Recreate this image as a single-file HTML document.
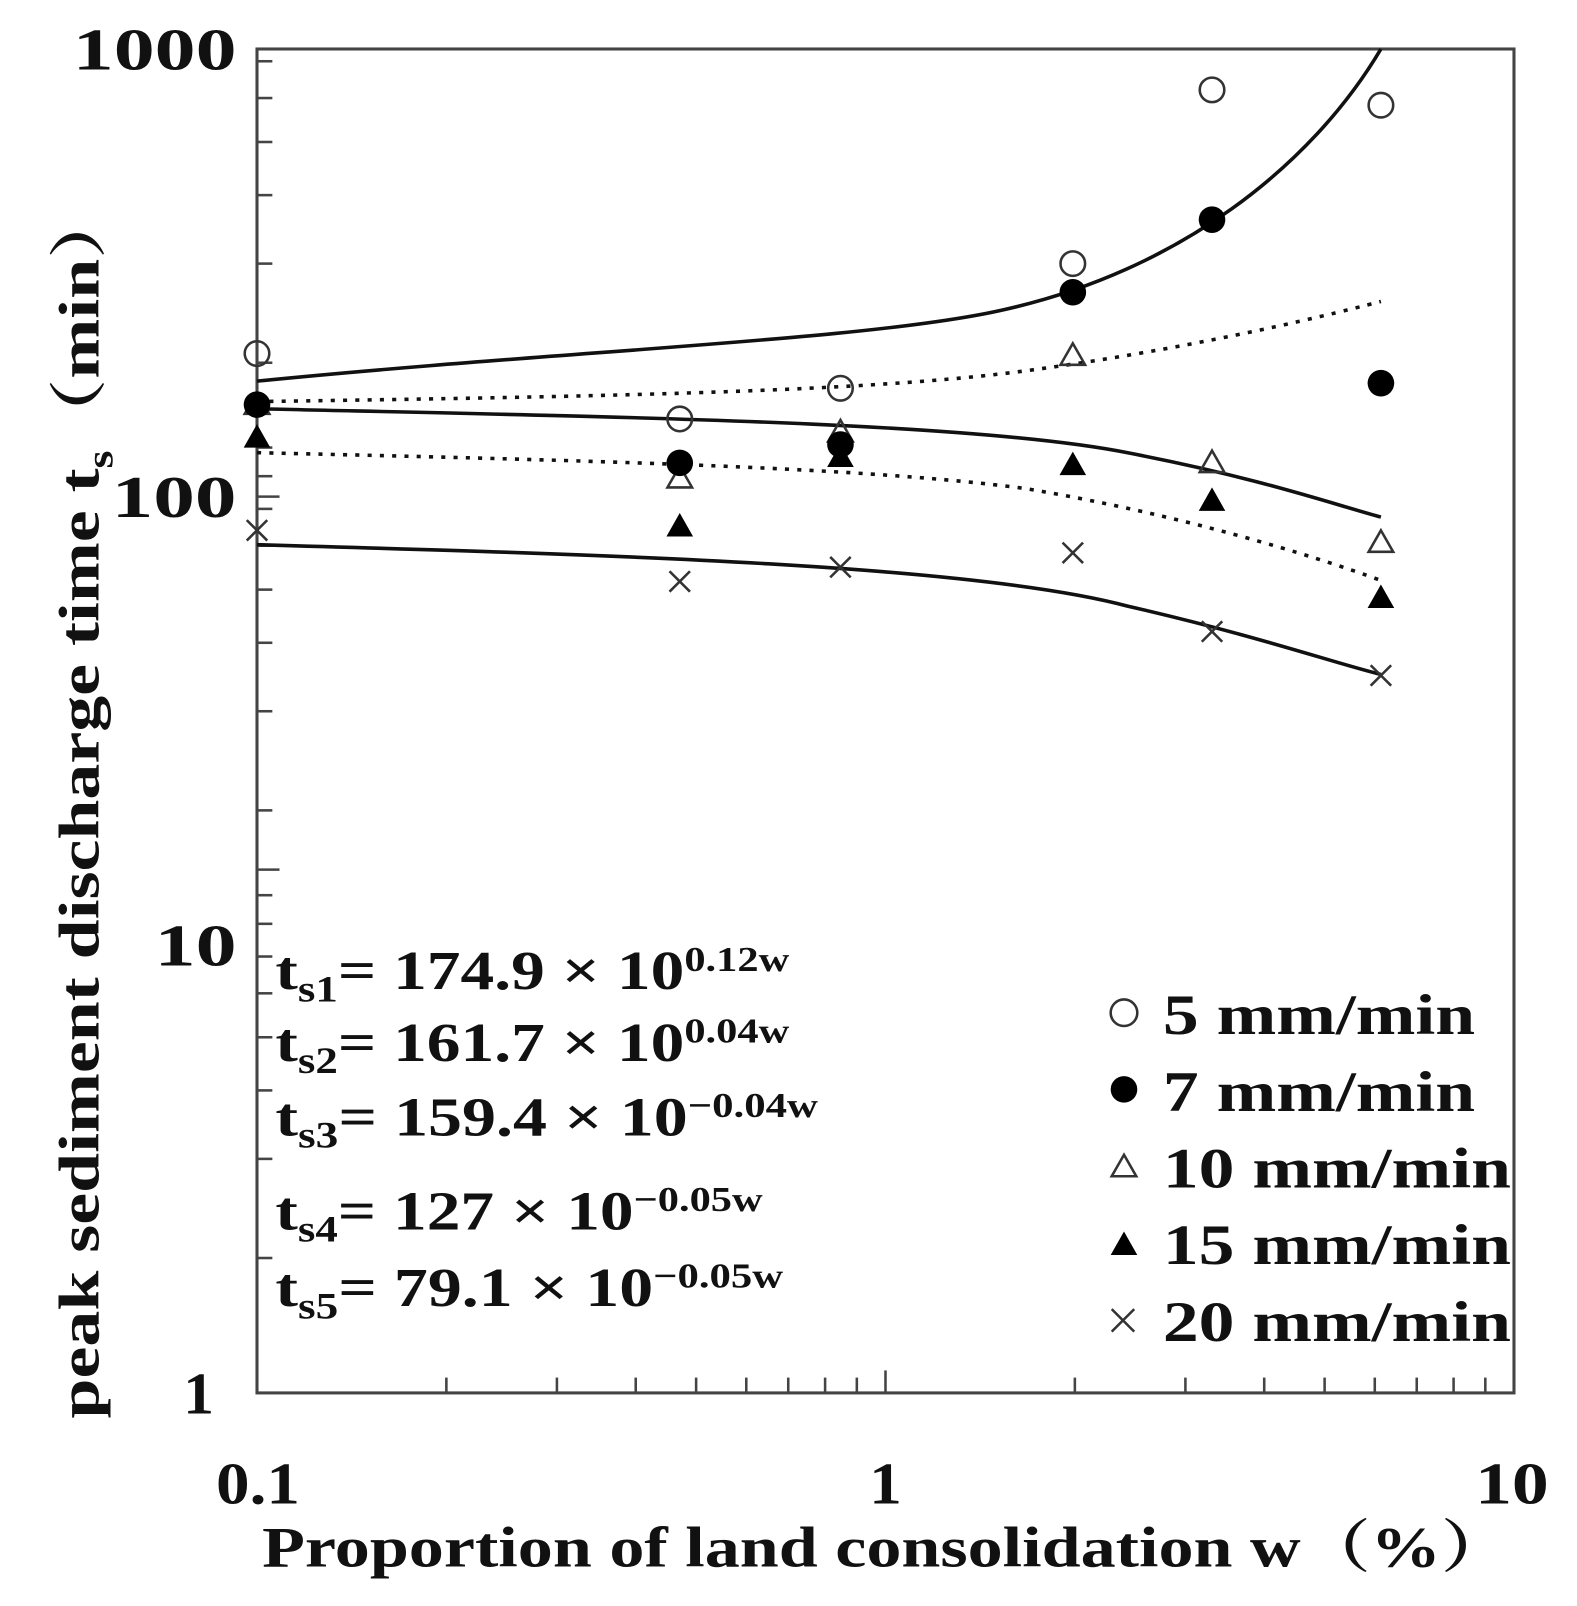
<!DOCTYPE html>
<html><head><meta charset="utf-8"><style>
html,body{margin:0;padding:0;background:#fff;}
svg{display:block}
text{font-family:"Liberation Serif","Noto Serif CJK SC",serif;font-weight:bold;fill:#111}
</style></head><body>
<svg width="1577" height="1606" viewBox="0 0 1577 1606" xmlns="http://www.w3.org/2000/svg">
<g transform="translate(1.1,3) scale(1.0236,1.022)">
<rect x="250" y="45" width="1228" height="1315" fill="none" stroke="#444" stroke-width="3"/>
<g stroke="#444" stroke-width="2.5">
<line x1="435" y1="1360" x2="435" y2="1345"/><line x1="543" y1="1360" x2="543" y2="1345"/><line x1="620" y1="1360" x2="620" y2="1345"/><line x1="679" y1="1360" x2="679" y2="1345"/><line x1="728" y1="1360" x2="728" y2="1345"/><line x1="769" y1="1360" x2="769" y2="1345"/><line x1="805" y1="1360" x2="805" y2="1345"/><line x1="836" y1="1360" x2="836" y2="1345"/><line x1="864" y1="1360" x2="864" y2="1338"/>
<line x1="1049" y1="1360" x2="1049" y2="1345"/><line x1="1157" y1="1360" x2="1157" y2="1345"/><line x1="1234" y1="1360" x2="1234" y2="1345"/><line x1="1293" y1="1360" x2="1293" y2="1345"/><line x1="1342" y1="1360" x2="1342" y2="1345"/><line x1="1383" y1="1360" x2="1383" y2="1345"/><line x1="1419" y1="1360" x2="1419" y2="1345"/><line x1="1450" y1="1360" x2="1450" y2="1345"/>
<line x1="250" y1="1228" x2="265" y2="1228"/><line x1="250" y1="1131" x2="265" y2="1131"/><line x1="250" y1="1064" x2="265" y2="1064"/><line x1="250" y1="1012" x2="265" y2="1012"/><line x1="250" y1="969" x2="265" y2="969"/><line x1="250" y1="933" x2="265" y2="933"/><line x1="250" y1="901" x2="265" y2="901"/><line x1="250" y1="873" x2="265" y2="873"/><line x1="250" y1="848" x2="272" y2="848"/>
<line x1="250" y1="790" x2="265" y2="790"/><line x1="250" y1="693" x2="265" y2="693"/><line x1="250" y1="626" x2="265" y2="626"/><line x1="250" y1="574" x2="265" y2="574"/><line x1="250" y1="531" x2="265" y2="531"/><line x1="250" y1="495" x2="265" y2="495"/><line x1="250" y1="463" x2="265" y2="463"/><line x1="250" y1="435" x2="265" y2="435"/><line x1="250" y1="483" x2="272" y2="483"/>
<line x1="250" y1="352" x2="265" y2="352"/><line x1="250" y1="255" x2="265" y2="255"/><line x1="250" y1="188" x2="265" y2="188"/><line x1="250" y1="136" x2="265" y2="136"/><line x1="250" y1="93" x2="265" y2="93"/><line x1="250" y1="57" x2="265" y2="57"/>
</g>
<g font-size="58">
<text x="70" y="65" textLength="160" lengthAdjust="spacingAndGlyphs">1000</text>
<text x="108" y="503" textLength="122" lengthAdjust="spacingAndGlyphs">100</text>
<text x="150" y="942" textLength="80" lengthAdjust="spacingAndGlyphs">10</text>
<text x="178" y="1380" textLength="30" lengthAdjust="spacingAndGlyphs">1</text>
<text x="210" y="1468" textLength="82" lengthAdjust="spacingAndGlyphs">0.1</text>
<text x="848" y="1468" textLength="32" lengthAdjust="spacingAndGlyphs">1</text>
<text x="1440" y="1468" textLength="72" lengthAdjust="spacingAndGlyphs">10</text>
</g>
<text x="255" y="1530" font-size="56" textLength="1220" lengthAdjust="spacingAndGlyphs">Proportion of land consolidation  w（%）</text>
<text transform="translate(95,1385) rotate(-90)" font-size="56" textLength="1205" lengthAdjust="spacingAndGlyphs">peak sediment discharge time  t<tspan font-size="36" dy="14">s</tspan><tspan dy="-14">（min）</tspan></text>
<g fill="none" stroke="#111" stroke-width="3.5">
<path d="M250,370 C550,340 850,330 980,300 C1150,262 1280,160 1348,45"/>
<path d="M250,397 C600,405 950,410 1100,440 C1230,465 1300,490 1348,503"/>
<path d="M250,530 C600,540 950,550 1100,590 C1230,620 1300,645 1348,657"/>
</g>
<g fill="none" stroke="#111" stroke-width="3.5" stroke-dasharray="4,8">
<path d="M250,390 C600,385 850,380 1000,360 C1150,340 1280,310 1348,292"/>
<path d="M250,440 C600,448 850,455 1000,475 C1150,500 1280,540 1348,565"/>
</g>
<g fill="none" stroke="#333" stroke-width="2.5">
<circle cx="250" cy="343" r="12"/><circle cx="663" cy="407" r="12"/><circle cx="820" cy="377" r="12"/><circle cx="1047" cy="255" r="12"/><circle cx="1183" cy="85" r="12"/><circle cx="1348" cy="100" r="12"/>
<path d="M663,453 l12,21 h-24z M820,408 l12,21 h-24z M1047,333 l12,21 h-24z M1183,438 l12,21 h-24z M1348,516 l12,21 h-24z M250,381 l12,21 h-24z"/>
<path d="M240,506 l20,20 M260,506 l-20,20 M653,556 l20,20 M673,556 l-20,20 M810,542 l20,20 M830,542 l-20,20 M1037,528 l20,20 M1057,528 l-20,20 M1173,605 l20,20 M1193,605 l-20,20 M1338,648 l20,20 M1358,648 l-20,20"/>
</g>
<g fill="#000">
<circle cx="250" cy="393" r="13"/><circle cx="663" cy="450" r="13"/><circle cx="820" cy="432" r="13"/><circle cx="1047" cy="283" r="13"/><circle cx="1183" cy="212" r="13"/><circle cx="1348" cy="372" r="13"/>
<path d="M250,412 l13,23 h-26z M663,499 l13,23 h-26z M820,431 l13,23 h-26z M1047,439 l13,23 h-26z M1183,474 l13,23 h-26z M1348,569 l13,23 h-26z"/>
</g>
<g font-size="54">
<text x="268" y="965" textLength="502" lengthAdjust="spacingAndGlyphs">t<tspan font-size="36" dy="12">s1</tspan><tspan dy="-12">= 174.9 × 10</tspan><tspan font-size="34" dy="-18">0.12w</tspan></text>
<text x="268" y="1035" textLength="502" lengthAdjust="spacingAndGlyphs">t<tspan font-size="36" dy="12">s2</tspan><tspan dy="-12">= 161.7 × 10</tspan><tspan font-size="34" dy="-18">0.04w</tspan></text>
<text x="268" y="1108" textLength="530" lengthAdjust="spacingAndGlyphs">t<tspan font-size="36" dy="12">s3</tspan><tspan dy="-12">= 159.4 × 10</tspan><tspan font-size="34" dy="-18">−0.04w</tspan></text>
<text x="268" y="1200" textLength="476" lengthAdjust="spacingAndGlyphs">t<tspan font-size="36" dy="12">s4</tspan><tspan dy="-12">= 127 × 10</tspan><tspan font-size="34" dy="-18">−0.05w</tspan></text>
<text x="268" y="1275" textLength="496" lengthAdjust="spacingAndGlyphs">t<tspan font-size="36" dy="12">s5</tspan><tspan dy="-12">= 79.1 × 10</tspan><tspan font-size="34" dy="-18">−0.05w</tspan></text>
</g>
<g fill="none" stroke="#333" stroke-width="2.5">
<circle cx="1097" cy="988" r="13"/>
<path d="M1097,1127 l12,21 h-24z"/>
<path d="M1085,1278 l22,22 M1107,1278 l-22,22"/>
</g>
<g fill="#000"><circle cx="1097" cy="1063" r="13"/><path d="M1097,1202 l13,23 h-26z"/></g>
<g font-size="56">
<text x="1135" y="1009" textLength="305" lengthAdjust="spacingAndGlyphs">5 mm/min</text>
<text x="1135" y="1084" textLength="305" lengthAdjust="spacingAndGlyphs">7 mm/min</text>
<text x="1135" y="1159" textLength="340" lengthAdjust="spacingAndGlyphs">10 mm/min</text>
<text x="1135" y="1234" textLength="340" lengthAdjust="spacingAndGlyphs">15 mm/min</text>
<text x="1135" y="1309" textLength="340" lengthAdjust="spacingAndGlyphs">20 mm/min</text>
</g>
</g>
</svg>
</body></html>
